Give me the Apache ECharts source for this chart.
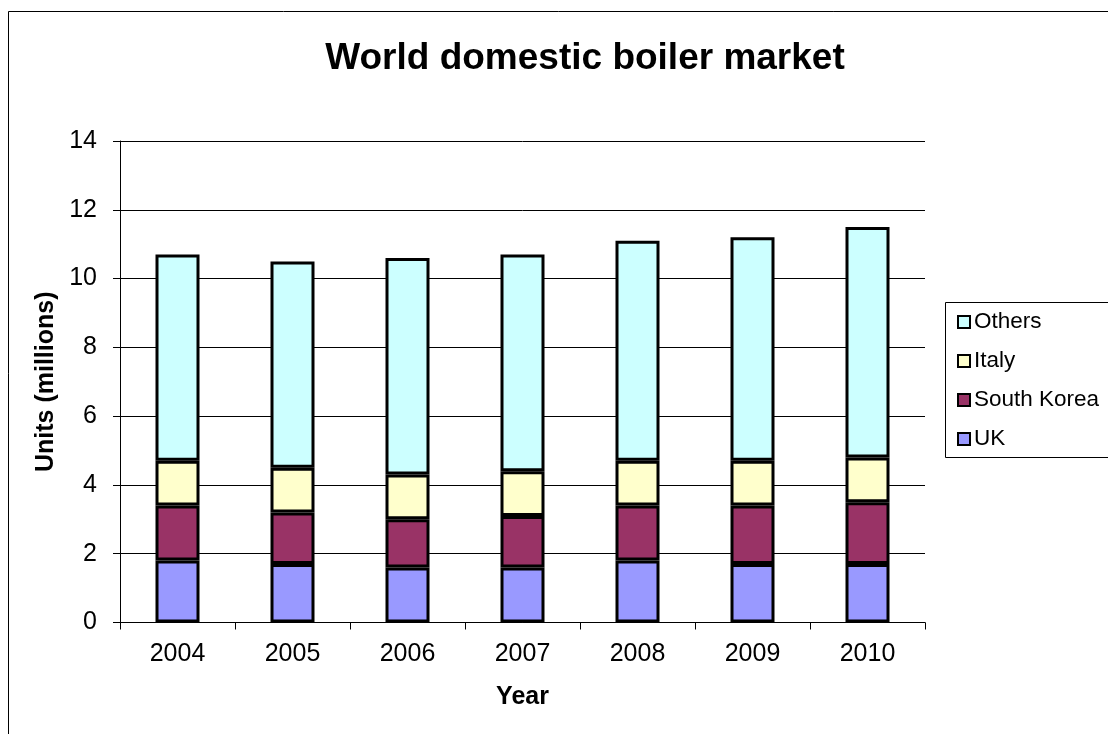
<!DOCTYPE html>
<html>
<head>
<meta charset="utf-8">
<script src="https://cdn.jsdelivr.net/npm/echarts@6/dist/echarts.min.js"></script>
<style>
html,body{margin:0;padding:0;background:#fff;}
#chart{width:1108px;height:734px;}
</style>
</head>
<body>
<div id="chart"></div>
<script>
var years = ['2004','2005','2006','2007','2008','2009','2010'];
var uk = [1.8, 1.7, 1.6, 1.6, 1.8, 1.7, 1.7];
var southKorea = [1.6, 1.5, 1.4, 1.5, 1.6, 1.7, 1.8];
var italy = [1.3, 1.3, 1.3, 1.3, 1.3, 1.3, 1.3];
var others = [6.0, 6.0, 6.3, 6.3, 6.4, 6.5, 6.7];

var FONT = 'Liberation Sans, Arial, sans-serif';
var chart = echarts.init(document.getElementById('chart'));

function bar(name, data, color) {
  return {
    name: name, type: 'bar', stack: 'total', data: data, barWidth: 44,
    itemStyle: { color: color, borderColor: '#000', borderWidth: 3 },
    emphasis: { disabled: true }
  };
}

chart.setOption({
  animation: false,
  backgroundColor: '#fff',
  title: {
    text: 'World domestic boiler market',
    left: 580, top: 35, textAlign: 'center',
    textStyle: { fontFamily: FONT, fontSize: 37, fontWeight: 'bold', color: '#000' }
  },
  graphic: [
    { type: 'rect', shape: { x: 8.5, y: 11.5, width: 1200, height: 800 },
      style: { fill: 'none', stroke: '#000', lineWidth: 1 }, silent: true },
    { type: 'rect', shape: { x: 945.5, y: 302.5, width: 200, height: 155 },
      style: { fill: '#fff', stroke: '#000', lineWidth: 1 }, silent: true, z: 5 }
  ],
  legend: {
    orient: 'vertical', left: 957, top: 310, padding: 0, itemGap: 15,
    itemWidth: 12, itemHeight: 12, icon: 'rect', z: 10,
    data: ['Others', 'Italy', 'South Korea', 'UK'],
    itemStyle: { borderColor: '#000', borderWidth: 2 },
    textStyle: { fontFamily: FONT, fontSize: 22.5, color: '#000', lineHeight: 24, padding: [0,0,0,-1] }
  },
  grid: { left: 120, right: 183, top: 141, bottom: 111.5 },
  xAxis: {
    type: 'category', data: years,
    name: 'Year', nameLocation: 'middle', nameGap: 62,
    nameTextStyle: { fontFamily: FONT, fontSize: 25, fontWeight: 'bold', color: '#000' },
    axisLine: { lineStyle: { color: '#000', width: 1 } },
    axisTick: { show: true, alignWithLabel: false, length: 7, lineStyle: { color: '#000' } },
    axisLabel: { fontFamily: FONT, fontSize: 25, color: '#000', margin: 19 }
  },
  yAxis: {
    type: 'value', min: 0, max: 14, interval: 2,
    name: 'Units (millions)', nameLocation: 'middle', nameGap: 60, nameRotate: 90,
    nameTextStyle: { fontFamily: FONT, fontSize: 25, fontWeight: 'bold', color: '#000' },
    axisLine: { show: true, lineStyle: { color: '#000', width: 1 } },
    axisTick: { show: true, length: 7, lineStyle: { color: '#000' } },
    axisLabel: { fontFamily: FONT, fontSize: 25, color: '#000', margin: 23 },
    splitLine: { show: true, lineStyle: { color: '#000', width: 1 } }
  },
  series: [
    bar('UK', uk, '#9999FF'),
    bar('South Korea', southKorea, '#993366'),
    bar('Italy', italy, '#FFFFCC'),
    bar('Others', others, '#CCFFFF')
  ]
});
</script>
</body>
</html>
